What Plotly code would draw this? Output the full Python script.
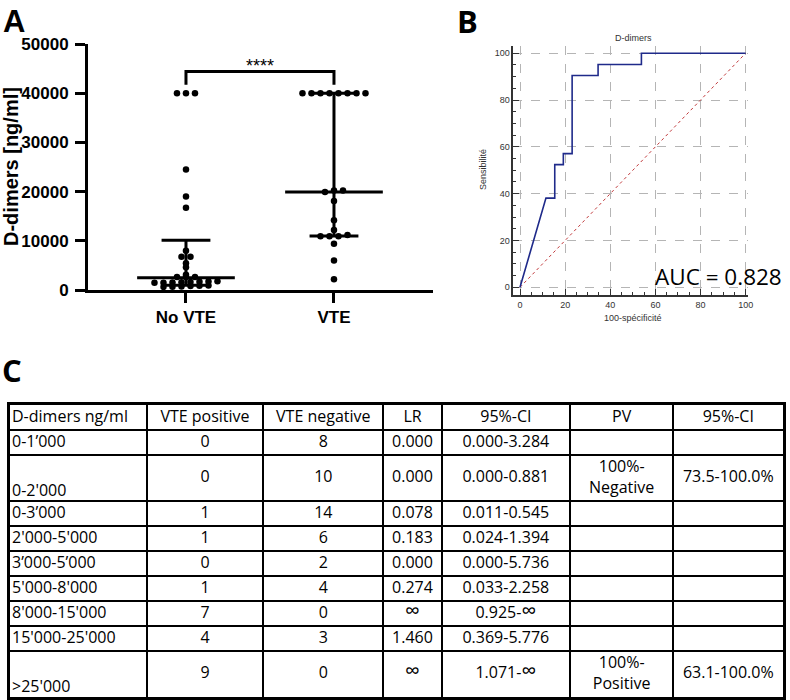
import numpy as np
import plotly.graph_objects as go

# ---------------- data ----------------
groups = ["No VTE", "VTE"]
no_vte = [40000, 40000, 40000, 24500, 19000, 16700, 7990, 6770, 6770, 5420, 4600,
          3110, 2640, 2640, 2640,
          1460, 1490, 1540, 1580, 1610, 1680, 1720, 1790,
          620, 680, 730, 790, 850, 900]
vte = [40000, 40000, 40000, 40000, 40000, 40000, 40000, 40000,
       20200, 19900, 20200, 18100, 14200, 12200, 11200, 10900, 10900, 10900,
       9400, 6000, 2200]
medians = [2500, 19900]
q1 = [950, 11000]
q3 = [10100, 40000]
sig_text = "****"

roc_fpr = [0, 11.5, 15.4, 15.4, 19.2, 19.2, 23.1, 23.1, 34.6, 34.6, 53.8, 53.8, 100]
roc_tpr = [0, 38.1, 38.1, 52.4, 52.4, 57.1, 57.1, 90.5, 90.5, 95.2, 95.2, 100, 100]
auc_text = "AUC = 0.828"

headers = ["D-dimers ng/ml", "VTE positive", "VTE negative", "LR", "95%-CI", "PV", "95%-CI"]
ranges = ["0-1’000", "0-2'000", "0-3’000", "2'000-5'000", "3’000-5’000",
          "5'000-8'000", "8'000-15'000", "15'000-25'000", ">25'000"]
vte_pos = [0, 0, 1, 1, 0, 1, 7, 4, 9]
vte_neg = [8, 10, 14, 6, 2, 4, 0, 3, 0]
lr = ["0.000", "0.000", "0.078", "0.183", "0.000", "0.274", "∞", "1.460", "∞"]
lr_ci = ["0.000-3.284", "0.000-0.881", "0.011-0.545", "0.024-1.394", "0.000-5.736",
         "0.033-2.258", "0.925-∞", "0.369-5.776", "1.071-∞"]
pv = ["", "100%-<br>Negative", "", "", "", "", "", "", "100%-<br>Positive"]
pv_ci = ["", "73.5-100.0%", "", "", "", "", "", "", "63.1-100.0%"]

# ---------------- helpers ----------------
W, H = 790, 700
def fx(px):
    return px / W
def fy(py):
    return 1 - py / H

ARIAL = "Arial, Liberation Sans, sans-serif"
CAL = "Open Sans, Noto Sans, sans-serif"

def swarm(values, thresh=400, spacing=9 / 148):
    v = np.asarray(values, dtype=float)
    order = np.argsort(v, kind="stable")
    rows = []
    for i in order:
        if rows and v[i] - v[rows[-1][0]] <= thresh:
            rows[-1].append(i)
        else:
            rows.append([i])
    offs = np.zeros(len(v))
    for r in rows:
        n = len(r)
        for k, i in enumerate(r):
            offs[i] = (k - (n - 1) / 2) * spacing
    return offs

def fmt_cell(t):
    t = str(t)
    return t.replace("∞", "<span style='font-size:21px'>∞</span>")

fig = go.Figure()

# ---------------- panel A ----------------
LW = 3
for gi, vals in enumerate([no_vte, vte]):
    offs = swarm(vals)
    fig.add_trace(go.Scatter(x=gi + offs, y=vals, mode="markers",
                             marker=dict(size=6.5, color="black"),
                             xaxis="x", yaxis="y", hoverinfo="skip"))
    fig.add_trace(go.Scatter(x=[gi - 0.33, gi + 0.33], y=[medians[gi]] * 2, mode="lines",
                             line=dict(color="black", width=LW), xaxis="x", yaxis="y"))
    for q in (q1[gi], q3[gi]):
        fig.add_trace(go.Scatter(x=[gi - 0.165, gi + 0.165], y=[q, q], mode="lines",
                                 line=dict(color="black", width=LW), xaxis="x", yaxis="y"))
    fig.add_trace(go.Scatter(x=[gi, gi], y=[q1[gi], q3[gi]], mode="lines",
                             line=dict(color="black", width=LW), xaxis="x", yaxis="y"))

# significance bracket
fig.add_trace(go.Scatter(x=[0, 0, 1, 1], y=[41700, 44400, 44400, 41700], mode="lines",
                         line=dict(color="black", width=LW), xaxis="x", yaxis="y"))

# ---------------- panel B ----------------
fig.add_trace(go.Scatter(x=[0, 100], y=[0, 100], mode="lines",
                         line=dict(color="#c0393b", width=1, dash="dot"),
                         xaxis="x2", yaxis="y2"))
fig.add_trace(go.Scatter(x=roc_fpr, y=roc_tpr, mode="lines",
                         line=dict(color="#1f2a8a", width=1.6),
                         xaxis="x2", yaxis="y2"))

# ---------------- table C ----------------
col_w = [136.7, 116.6, 120, 58.4, 128.3, 103.3, 110]
row_h = [25] + [46 if "<br>" in p else 25 for p in pv]
xb = np.concatenate([[0], np.cumsum(col_w)])
yb = np.concatenate([[0], np.cumsum(row_h)])
tot_w, tot_h = xb[-1], yb[-1]

columns = [ranges, vte_pos, vte_neg, lr, lr_ci, pv, pv_ci]
for ci in range(len(headers)):
    texts = [headers[ci]] + [fmt_cell(t) for t in columns[ci]]
    ys = []
    for ri in range(len(texts)):
        top, bot = yb[ri], yb[ri + 1]
        if ci == 0 and row_h[ri] > 30:
            ys.append(bot - 9)
        else:
            ys.append((top + bot) / 2 + 0.5)
    if ci == 0:
        xs = [xb[0] + 2] * len(texts)
        pos = "middle right"
    else:
        xs = [(xb[ci] + xb[ci + 1]) / 2] * len(texts)
        pos = "middle center"
    fig.add_trace(go.Scatter(x=xs, y=ys, text=texts, mode="text", textposition=pos,
                             textfont=dict(family=CAL, size=16, color="black"),
                             xaxis="x3", yaxis="y3", hoverinfo="skip"))

# ---------------- layout ----------------
def pann(text, px, py, size, family, color="black", angle=0):
    return dict(text=text, x=fx(px), y=fy(py), xref="paper", yref="paper",
                xanchor="center", yanchor="middle", textangle=angle,
                showarrow=False, font=dict(family=family, size=size, color=color))

ann = [
    pann("<b>A</b>", 14, 21, 31, ARIAL),
    pann("<b>B</b>", 467, 21, 31, CAL),
    pann("<b>C</b>", 12, 370, 31, CAL),
    pann("<b>D-dimers [ng/ml]</b>", 11, 167, 20, ARIAL, angle=-90),
    pann("D-dimers", 633, 38, 9, ARIAL, "#333"),
    pann("Sensibilité", 483, 170, 9, ARIAL, "#333", angle=-90),
    pann("100-spécificité", 633, 318, 9, ARIAL, "#333"),
    pann(auc_text, 718, 276, 22.5, CAL),
    dict(text=sig_text, x=0.5, y=44400, xref="x", yref="y", xanchor="center",
         yanchor="bottom", yshift=-6, showarrow=False,
         font=dict(family=ARIAL, size=18, color="black")),
]

fig.update_layout(
    template="none",
    width=W, height=H, autosize=False, showlegend=False,
    margin=dict(l=0, r=0, t=0, b=0, pad=0),
    paper_bgcolor="white", plot_bgcolor="white",
    annotations=ann,
    xaxis=dict(domain=[fx(88), fx(433)], range=[-0.662, 1.669], automargin=False,
               tickvals=[0, 1], ticktext=groups, ticks="outside", ticklen=10, tickwidth=3,
               tickcolor="black", showline=True, linewidth=3, linecolor="black",
               showgrid=False, zeroline=False,
               tickfont=dict(family=ARIAL, size=17, color="black", weight="bold")),
    yaxis=dict(domain=[fy(290), fy(44)], range=[0, 50000], tickformat="d", automargin=False,
               tickvals=[0, 10000, 20000, 30000, 40000, 50000], ticks="outside",
               ticklen=10, tickwidth=3, tickcolor="black", showline=True, linewidth=3,
               linecolor="black", showgrid=False, zeroline=False, ticklabelstandoff=3,
               tickfont=dict(family=ARIAL, size=17, color="black", weight="bold")),
    xaxis2=dict(domain=[fx(513.3), fx(747.7)], range=[-2.97, 100.9], anchor="y2",
                automargin=False,
                tickvals=[0, 20, 40, 60, 80, 100], ticks="inside", ticklen=6,
                tickcolor="#333", showline=True, linewidth=1.5, linecolor="#333",
                showgrid=True, gridcolor="#b5b5b5", griddash="dash", gridwidth=1,
                zeroline=False, minor=dict(ticks="inside", ticklen=3, dtick=5, tickcolor="#333",
                                           showgrid=False),
                tickfont=dict(family=ARIAL, size=9, color="#333")),
    yaxis2=dict(domain=[fy(295), fy(45.7)], range=[-3.3, 103.2], anchor="x2",
                automargin=False,
                tickvals=[0, 20, 40, 60, 80, 100], ticks="inside", ticklen=6,
                tickcolor="#333", showline=True, linewidth=1.5, linecolor="#333",
                showgrid=True, gridcolor="#b5b5b5", griddash="dash", gridwidth=1,
                zeroline=False, minor=dict(ticks="inside", ticklen=3, dtick=5, tickcolor="#333",
                                           showgrid=False),
                tickfont=dict(family=ARIAL, size=9, color="#333")),
    xaxis3=dict(domain=[fx(10), fx(783.3)], range=[0, tot_w], anchor="y3", automargin=False,
                tickvals=list(xb[1:-1]), showticklabels=False, ticks="",
                showgrid=True, gridcolor="black", gridwidth=2, zeroline=False,
                showline=True, mirror=True, linewidth=2.5, linecolor="black"),
    yaxis3=dict(domain=[fy(696.7), fy(405)], range=[tot_h, 0], anchor="x3", automargin=False,
                tickvals=list(yb[1:-1]), showticklabels=False, ticks="",
                showgrid=True, gridcolor="black", gridwidth=2, zeroline=False,
                showline=True, mirror=True, linewidth=2.5, linecolor="black"),
)

fig.write_html("out.html", config={"displayModeBar": False},
               post_script="document.body.style.margin='0';document.body.style.overflow='hidden';")
